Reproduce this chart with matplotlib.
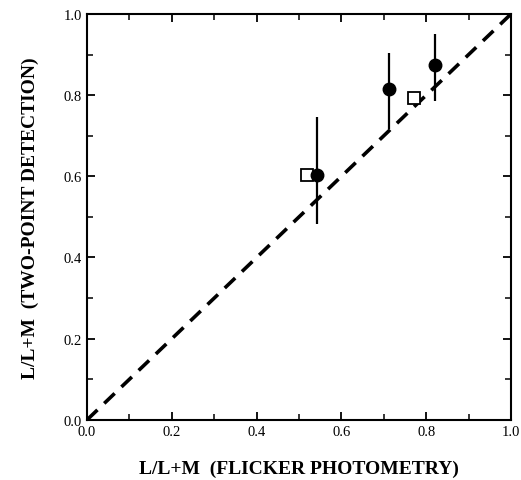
import numpy as np
import matplotlib
matplotlib.use("Agg")
import matplotlib.pyplot as plt
from matplotlib.ticker import MultipleLocator

plt.rcParams['font.family'] = ['Liberation Serif', 'DejaVu Serif']

# two-point detection vs flicker photometry, L/(L+M)
circ_x    = [0.542, 0.711, 0.821]
circ_y    = [0.603, 0.815, 0.874]
circ_lo   = [0.483, 0.717, 0.786]
circ_hi   = [0.746, 0.904, 0.951]
square_x  = [0.519, 0.770]
square_y  = [0.603, 0.792]

fig = plt.figure(figsize=(5.21, 4.81), dpi=100)
ax = fig.add_axes([0.167, 0.125, 0.814, 0.844])

ax.plot([0, 1], [0, 1], color='black', lw=2.6, dashes=(4, 2.6), zorder=1)

ax.plot(square_x, square_y, 's', ms=8, mfc='white', mec='black', mew=1.3, zorder=2)

yerr = [np.subtract(circ_y, circ_lo), np.subtract(circ_hi, circ_y)]
ax.errorbar(circ_x, circ_y, yerr=yerr, fmt='o', ms=9, color='black',
            elinewidth=1.6, capsize=0, zorder=3)

ax.set_xlim(0, 1)
ax.set_ylim(0, 1)
ax.xaxis.set_major_locator(MultipleLocator(0.2))
ax.yaxis.set_major_locator(MultipleLocator(0.2))
ax.xaxis.set_minor_locator(MultipleLocator(0.1))
ax.yaxis.set_minor_locator(MultipleLocator(0.1))
ax.tick_params(which='both', direction='in', top=True, right=True, labelsize=10.5)
ax.tick_params(which='major', length=6, width=1.3)
ax.tick_params(which='minor', length=4, width=1.1)
ax.set_xticklabels([f"{v:.1f}" for v in ax.get_xticks()])
ax.set_yticklabels([f"{v:.1f}" for v in ax.get_yticks()])
for s in ax.spines.values():
    s.set_linewidth(1.5)

ax.set_xlabel("L/L+M  (FLICKER PHOTOMETRY)", fontsize=14, fontweight='bold', labelpad=16)
ax.set_ylabel("L/L+M  (TWO-POINT DETECTION)", fontsize=14, fontweight='bold', labelpad=18)

fig.savefig("out.png", dpi=100)
